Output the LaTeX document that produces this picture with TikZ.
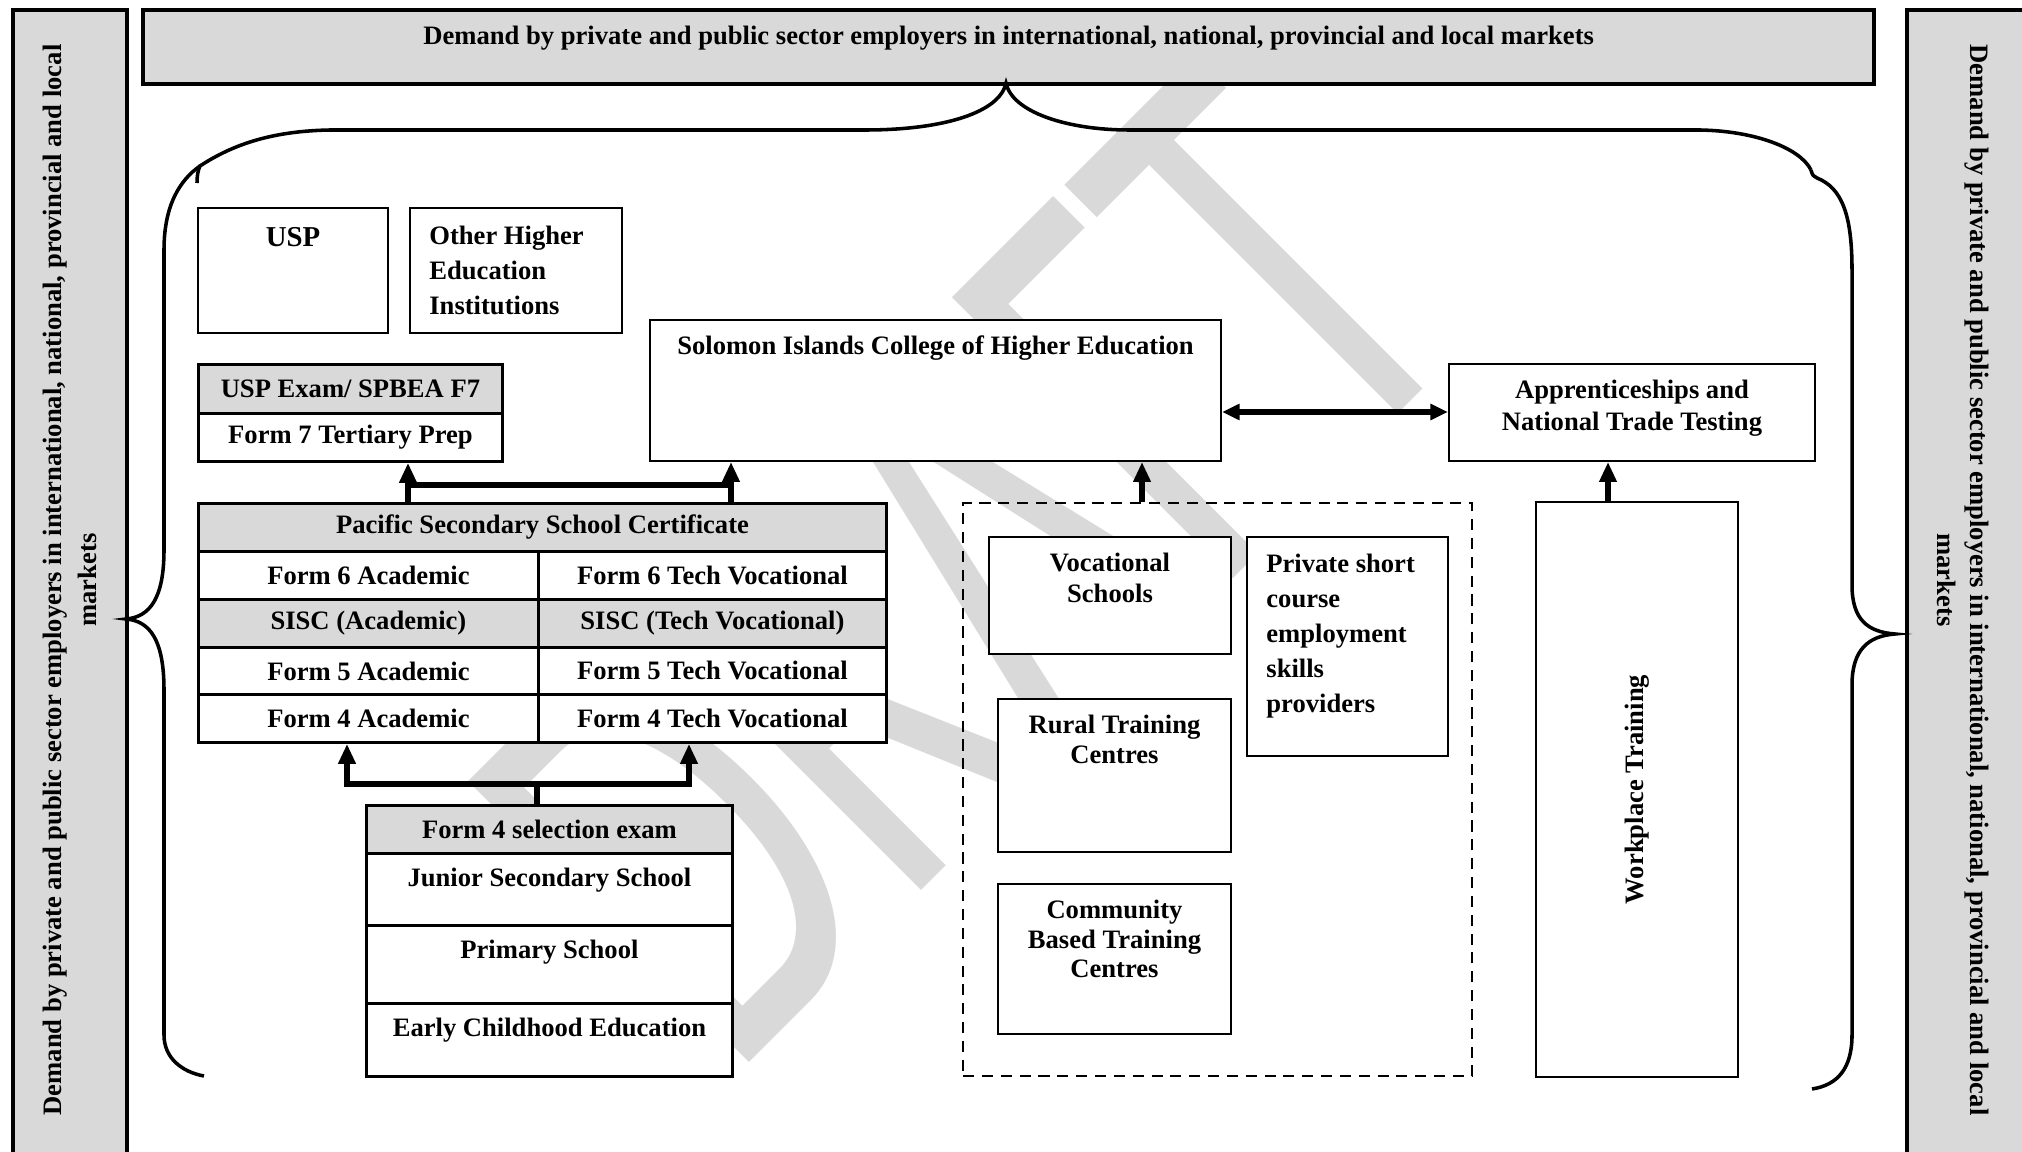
\documentclass[tikz,border=0pt]{standalone}
\usepackage{fontspec}
\setmainfont{Liberation Serif}
\newfontfamily\wmfont{Carlito}
\usetikzlibrary{arrows.meta,positioning}
\begin{document}
\begin{tikzpicture}[x=0.4512pt,y=-0.4512pt,font=\bfseries\fontsize{12}{13.8}\selectfont,
	box/.style={draw,line width=0.9pt,fill=white,anchor=north west,inner sep=0pt},
	cell/.style={draw,line width=1.3pt,fill=white,anchor=north west,inner sep=0pt},
	shade/.style={fill=black!15},
	sz/.style 2 args={minimum width=#1*0.4512pt,minimum height=#2*0.4512pt},
	demand/.style={draw,line width=2pt,fill=black!15,anchor=north west,inner sep=0pt},
	txt/.style={align=center,inner sep=0pt},
	txtl/.style={align=left,inner sep=0pt,font=\bfseries\fontsize{12}{15.8}\selectfont},
	arr/.style={line width=2.3pt,-{Triangle[length=9pt,width=7.5pt]}},
	darr/.style={line width=2.3pt,{Triangle[length=8pt,width=7pt]}-{Triangle[length=8pt,width=7pt]}},
	link/.style={line width=2.3pt},
	brace/.style={line width=1.6pt}]
	\useasboundingbox (0,0) rectangle (2022,1152);
	\node[text=black!15,font=\wmfont\fontsize{178}{200}\selectfont,rotate=45,yscale=1.57,anchor=base west,inner sep=0pt] (wm) at (730,1082) {DRAFT};
	\node[demand,sz={114}{1170}] (lbar) at (11,8) {};
	\node[demand,sz={130}{1170}] (rbar) at (1905,8) {};
	\node[demand,sz={1731}{74}] (banner) at (141,8) {};
	\node[txt,rotate=90,font=\bfseries\fontsize{12}{16}\selectfont] (lbar-t) at (70,580) {Demand by private and public sector employers in international, national, provincial and local\\markets};
	\node[txt,rotate=-90,font=\bfseries\fontsize{12}{15}\selectfont] (rbar-t) at (1963,580) {Demand by private and public sector employers in international, national, provincial and local\\markets};
	\node[txt,below=8pt of banner.north] (banner-t) {Demand by private and public sector employers in international, national, provincial and local markets};
	\draw[brace] (204,1076) .. controls (182,1072) and (164,1058) .. (164,1035) -- (164,690) .. controls (164,640) and (150,621) .. (126,619) .. controls (150,617) and (164,598) .. (164,550) -- (164,250) .. controls (164,205) and (180,180) .. (200,166);
	\draw[brace] (197,183) .. controls (197,176) and (198,170) .. (200,166) .. controls (235,143) and (275,131) .. (330,130) -- (865,130) .. controls (945,130) and (1000,112) .. (1006,83) .. controls (1012,112) and (1067,130) .. (1129,130) -- (1700,130) .. controls (1755,131) and (1800,148) .. (1811,170);
	\draw[brace] (1811,170) .. controls (1812,175) and (1814,177) .. (1817,178) .. controls (1842,188) and (1852,215) .. (1852,270) -- (1852,585) .. controls (1852,620) and (1868,632) .. (1895,634) .. controls (1868,636) and (1852,650) .. (1852,685) -- (1852,1035) .. controls (1852,1068) and (1838,1085) .. (1812,1089);
	\node[box,sz={190}{125}] (usp) at (197,207) {};
	\node[txt,below=9pt of usp.north,font=\bfseries\fontsize{13}{15}\selectfont] (usp-t) {USP};
	\node[box,sz={212}{125}] (ohe) at (409,207) {};
	\node[txtl,below right=8.5pt and 9pt of ohe.north west] (ohe-t) {Other Higher\\Education\\Institutions};
	\node[cell,shade,sz={304}{49}] (uspx) at (197,363) {USP Exam/ SPBEA F7};
	\node[cell,sz={304}{48}] (f7) at (197,412) {Form 7 Tertiary Prep};
	\node[box,sz={571}{141}] (siche) at (649,319) {};
	\node[txt,below=7.5pt of siche.north] (siche-t) {Solomon Islands College of Higher Education};
	\node[box,sz={366}{97}] (appr) at (1448,363) {};
	\node[txt,below=7.5pt of appr.north,font=\bfseries\fontsize{12}{14.4}\selectfont] (appr-t) {Apprenticeships and\\National Trade Testing};
	\node[cell,shade,sz={688}{48}] (pssc) at (197,502) {Pacific Secondary School Certificate};
	\node[cell,sz={340}{48}] (f6a) at (197,550) {Form 6 Academic};
	\node[cell,sz={348}{48}] (f6t) at (537,550) {Form 6 Tech Vocational};
	\node[cell,shade,sz={340}{48}] (sisca) at (197,598) {SISC (Academic)};
	\node[cell,shade,sz={348}{48}] (sisct) at (537,598) {SISC (Tech Vocational)};
	\node[cell,sz={340}{47}] (f5a) at (197,646) {Form 5 Academic};
	\node[cell,sz={348}{47}] (f5t) at (537,646) {Form 5 Tech Vocational};
	\node[cell,sz={340}{48}] (f4a) at (197,693) {Form 4 Academic};
	\node[cell,sz={348}{48}] (f4t) at (537,693) {Form 4 Tech Vocational};
	\node[cell,shade,sz={366}{48}] (f4s) at (365,804) {Form 4 selection exam};
	\node[cell,sz={366}{72}] (jss) at (365,852) {};
	\node[txt,below=7pt of jss.north] (jss-t) {Junior Secondary School};
	\node[cell,sz={366}{78}] (prim) at (365,924) {};
	\node[txt,below=7pt of prim.north] (prim-t) {Primary School};
	\node[cell,sz={366}{73}] (ece) at (365,1002) {};
	\node[txt,below=7pt of ece.north] (ece-t) {Early Childhood Education};
	\node[draw,dashed,dash pattern=on 5pt off 3.5pt,line width=1pt,anchor=north west,sz={509}{573}] (tvet) at (962,502) {};
	\node[box,sz={242}{117}] (voc) at (988,536) {};
	\node[txt,below=7.5pt of voc.north,font=\bfseries\fontsize{12}{14}\selectfont] (voc-t) {Vocational\\Schools};
	\node[box,sz={201}{219}] (priv) at (1246,536) {};
	\node[txtl,below right=8pt and 9pt of priv.north west] (priv-t) {Private short\\course\\employment\\skills\\providers};
	\node[box,sz={233}{153}] (rtc) at (997,698) {};
	\node[txt,below=7.5pt of rtc.north,font=\bfseries\fontsize{12}{13.4}\selectfont] (rtc-t) {Rural Training\\Centres};
	\node[box,sz={233}{150}] (cbtc) at (997,883) {};
	\node[txt,below=7.5pt of cbtc.north,font=\bfseries\fontsize{12}{13.4}\selectfont] (cbtc-t) {Community\\Based Training\\Centres};
	\node[box,sz={202}{575}] (work) at (1535,501) {};
	\node[txt,rotate=90] (work-t) at (work.center) {Workplace Training};
	\coordinate (p1) at (408,485);
	\coordinate (p2) at (731,485);
	\draw[link] (p1) -- (p2);
	\draw[arr] (pssc.north -| p1) -- (f7.south -| p1);
	\draw[arr] (pssc.north -| p2) -- (siche.south -| p2);
	\coordinate (q0) at (537,784);
	\coordinate (q1) at (347,784);
	\coordinate (q2) at (689,784);
	\draw[link] (f4s.north -| q0) -- (q0);
	\draw[arr] (q0) -| (f4a.south -| q1);
	\draw[arr] (q0) -| (f4t.south -| q2);
	\coordinate (t1) at (1142,0);
	\draw[arr] (tvet.north -| t1) -- (siche.south -| t1);
	\coordinate (w1) at (1608,0);
	\draw[arr] (work.north -| w1) -- (appr.south -| w1);
	\coordinate (d1) at (0,412);
	\draw[darr] (siche.east |- d1) -- (appr.west |- d1);
\end{tikzpicture}
\end{document}
